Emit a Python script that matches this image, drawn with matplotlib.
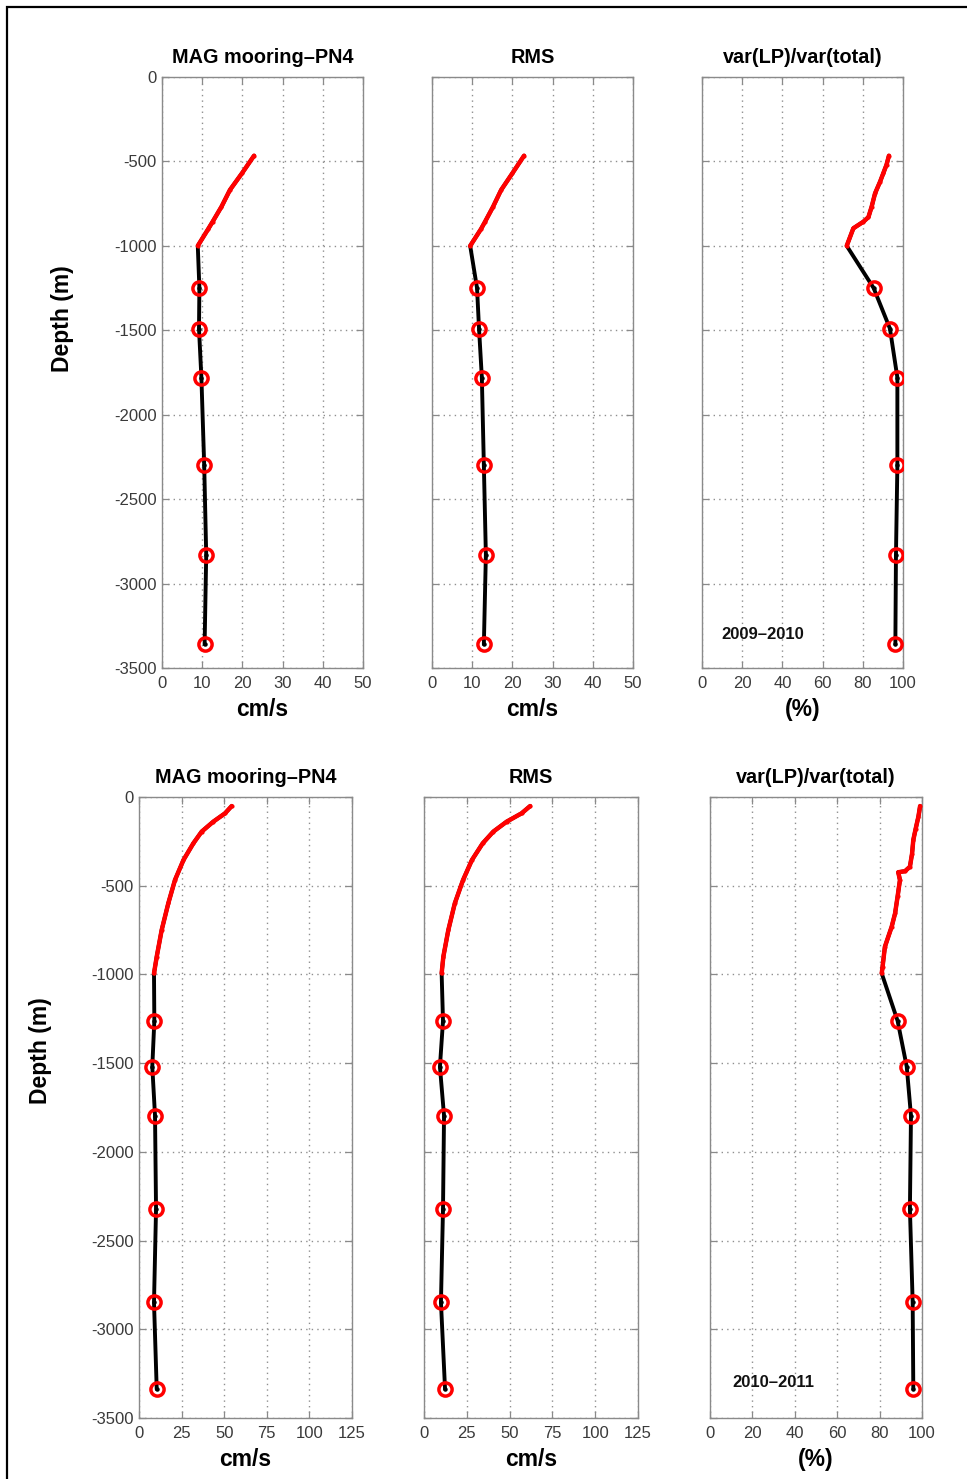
import matplotlib
matplotlib.use("Agg")
import matplotlib.pyplot as plt
from matplotlib.patches import Rectangle

plt.rcParams['font.family'] = ['Liberation Sans', 'DejaVu Sans']
plt.rcParams['axes.unicode_minus'] = False

# ---------------- data: 2009-2010 ----------------
adcp_depth_0910 = [466, 570, 669, 768, 857, 900, 1000]
mag_adcp_0910 = [22.9, 19.9, 16.9, 14.8, 12.6, 11.5, 8.9]
rms_adcp_0910 = [22.9, 20.0, 17.2, 15.2, 13.2, 12.2, 9.5]
var_adcp_depth_0910 = [466, 520, 570, 620, 689, 768, 830, 857, 896, 1000]
var_adcp_0910 = [93.0, 91.8, 90.2, 88.6, 86.1, 84.4, 82.8, 80.3, 75.3, 72.0]

cm_depth_0910 = [1250, 1490, 1780, 2300, 2830, 3360]
mag_cm_0910 = [9.3, 9.2, 9.8, 10.5, 11.0, 10.6]
rms_cm_0910 = [11.2, 11.7, 12.4, 12.9, 13.4, 12.9]
var_cm_0910 = [85.4, 93.5, 97.2, 97.2, 96.5, 96.2]

# ---------------- data: 2010-2011 ----------------
adcp_depth_1011 = [51, 92, 139, 195, 261, 355, 468, 599, 750, 900, 994]
mag_adcp_1011 = [54.4, 50.5, 43.6, 36.8, 31.9, 26.1, 21.1, 17.2, 13.3, 10.4, 8.8]
rms_adcp_1011 = [62.0, 57.0, 48.3, 40.5, 34.3, 28.0, 22.8, 18.0, 14.2, 11.3, 10.3]
var_adcp_depth_1011 = [51, 111, 180, 242, 320, 393, 418, 424, 468, 560, 656, 731, 844, 957, 994]
var_adcp_1011 = [99.1, 98.3, 97.0, 95.9, 95.3, 94.3, 92.0, 88.8, 89.6, 88.5, 87.3, 85.7, 82.5, 81.4, 81.0]

cm_depth_1011 = [1262, 1520, 1796, 2322, 2848, 3338]
mag_cm_1011 = [9.0, 7.8, 9.4, 10.0, 8.8, 10.4]
rms_cm_1011 = [11.1, 9.3, 11.7, 11.1, 9.9, 12.3]
var_cm_1011 = [88.5, 92.8, 94.8, 94.3, 95.6, 95.9]

titles = ["MAG mooring\u2013PN4", "RMS", "var(LP)/var(total)"]
xlabels = ["cm/s", "cm/s", "(%)"]
yticks = [0, -500, -1000, -1500, -2000, -2500, -3000, -3500]
xticks_top = [[0, 10, 20, 30, 40, 50], [0, 10, 20, 30, 40, 50], [0, 20, 40, 60, 80, 100]]
xticks_bot = [[0, 25, 50, 75, 100, 125], [0, 25, 50, 75, 100, 125], [0, 20, 40, 60, 80, 100]]
year_labels = ["2009\u20132010", "2010\u20132011"]

W, H = 967, 1479
fig = plt.figure(figsize=(W / 100, H / 100), dpi=100)

# border (left and top visible)
fig.add_artist(Rectangle((7 / W, -0.05), 1.2, 1 - 7 / H + 0.05, transform=fig.transFigure,
                         fill=False, edgecolor='black', linewidth=1.6, clip_on=False))

top_px = [(162, 363), (432, 633), (702, 903)]
bot_px = [(139, 352), (424, 638), (710, 922)]

def px_axes(x0, x1, y0, y1):
    return fig.add_axes([x0 / W, 1 - y1 / H, (x1 - x0) / W, (y1 - y0) / H])

rows = [
    dict(px=top_px, y=(77, 668), xt=xticks_top, ylab_x=74,
         adcp=[(adcp_depth_0910, mag_adcp_0910), (adcp_depth_0910, rms_adcp_0910),
               (var_adcp_depth_0910, var_adcp_0910)],
         cm=[mag_cm_0910, rms_cm_0910, var_cm_0910], cmd=cm_depth_0910,
         year=year_labels[0]),
    dict(px=bot_px, y=(797, 1418), xt=xticks_bot, ylab_x=52,
         adcp=[(adcp_depth_1011, mag_adcp_1011), (adcp_depth_1011, rms_adcp_1011),
               (var_adcp_depth_1011, var_adcp_1011)],
         cm=[mag_cm_1011, rms_cm_1011, var_cm_1011], cmd=cm_depth_1011,
         year=year_labels[1]),
]

spine_c = '#8a8a8a'
for r in rows:
    y0, y1 = r['y']
    for i in range(3):
        x0, x1 = r['px'][i]
        ax = px_axes(x0, x1, y0, y1)
        ad, av = r['adcp'][i]
        all_d = [-d for d in ad] + [-d for d in r['cmd']]
        all_v = list(av) + list(r['cm'][i])
        ax.plot(all_v, all_d, color='black', lw=2.8, zorder=3,
                solid_capstyle='round')
        ax.plot(av, [-d for d in ad], color='red', lw=3.2, marker='.', ms=4,
                zorder=4, solid_capstyle='round')
        ax.plot(r['cm'][i], [-d for d in r['cmd']], linestyle='none', marker='o',
                ms=9.5, mfc='none', mec='red', mew=2.5, zorder=5)
        ax.plot(r['cm'][i], [-d for d in r['cmd']], linestyle='none', marker='o',
                ms=2.2, color='black', zorder=6)
        xt = r['xt'][i]
        ax.set_xlim(xt[0], xt[-1])
        ax.set_ylim(-3500, 0)
        ax.set_xticks(xt)
        ax.set_yticks(yticks)
        ax.grid(True, linestyle=(0, (1, 3)), color='#8f8f8f', linewidth=1.0)
        ax.set_axisbelow(True)
        for s in ax.spines.values():
            s.set_color(spine_c)
            s.set_linewidth(1.0)
        ax.tick_params(direction='in', length=5, width=0.9, color=spine_c,
                       top=True, right=True, labelsize=12, labelcolor='#3a3a3a',
                       pad=4)
        ax.tick_params(axis='x', pad=6)
        if i != 0:
            ax.set_yticklabels([])
        else:
            ax.set_ylabel("Depth (m)", fontsize=16.5, fontweight='bold')
            ax.yaxis.set_label_coords(-(x0 - r['ylab_x']) / (x1 - x0), 0.592)
        ax.set_title(titles[i], fontsize=14.3, fontweight='bold', pad=10)
        ax.set_xlabel(xlabels[i], fontsize=16.5, fontweight='bold')
        ax.xaxis.set_label_coords(0.5, -30 / (y1 - y0))
        if i == 2:
            ax.text(30, -3300, r['year'], fontsize=12, fontweight='bold',
                    ha='center', va='center', color='#111111')

fig.savefig("out.png", dpi=100)
